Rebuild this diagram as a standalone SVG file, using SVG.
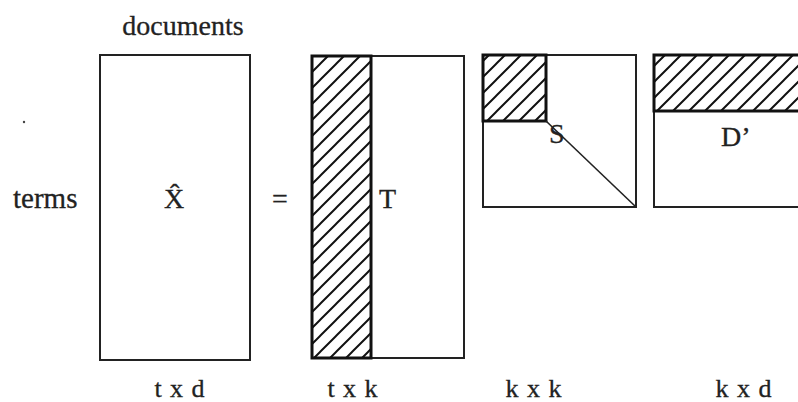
<svg xmlns="http://www.w3.org/2000/svg" width="798" height="402" viewBox="0 0 798 402">
<style>
text{font-family:"Liberation Serif","Times New Roman",serif;fill:#222;stroke:#222;stroke-width:0.3;font-size:28px}
.lbl{text-anchor:middle}
.frame{fill:#fff;stroke:#222;stroke-width:2}
.hatchbox{fill:url(#hatch);stroke:#111;stroke-width:3}
.diag{stroke:#222;stroke-width:1.6;fill:none}
.dim{font-size:26px;letter-spacing:1px;text-anchor:middle}
</style>
<defs>
<pattern id="hatch" patternUnits="userSpaceOnUse" width="16" height="16" x="0" y="0">
<path d="M-4,4 L4,-4 M0,16 L16,0 M12,20 L20,12" stroke="#111" stroke-width="2"/>
</pattern>
</defs>
<rect width="798" height="402" fill="#fff"/>
<circle cx="24" cy="122" r="1.2" fill="#444"/>
<g id="X">
<text class="lbl" x="183" y="35">documents</text>
<text x="13" y="208" style="font-size:29px">terms</text>
<rect class="frame" x="100" y="55" width="150" height="305"/>
<text class="lbl" x="174" y="208">X̂</text>
<text class="dim" x="180" y="397">t x d</text>
</g>
<text class="lbl" x="280" y="208">=</text>
<g id="T">
<rect class="frame" x="312" y="56" width="152" height="302"/>
<rect class="hatchbox" x="312" y="56" width="59" height="302"/>
<text x="379" y="208">T</text>
<text class="dim" x="353" y="397">t x k</text>
</g>
<g id="S">
<rect class="frame" x="483" y="55" width="153" height="152"/>
<rect class="hatchbox" x="483" y="55" width="63" height="66"/>
<line class="diag" x1="546" y1="121" x2="636" y2="207"/>
<text x="549" y="143">S</text>
<text class="dim" x="534" y="397">k x k</text>
</g>
<g id="D">
<rect class="frame" x="654" y="55" width="150" height="152"/>
<rect class="hatchbox" x="654" y="55" width="150" height="56"/>
<text x="721" y="146">D’</text>
<text class="dim" x="744" y="397">k x d</text>
</g>
</svg>
